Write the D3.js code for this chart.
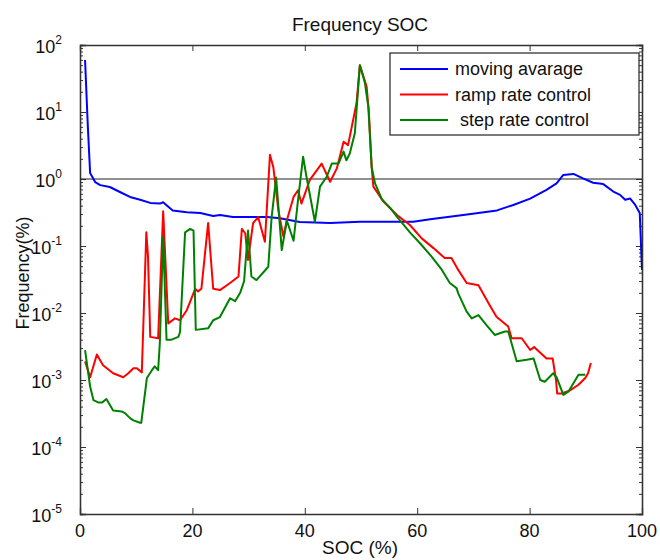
<!DOCTYPE html>
<html>
<head>
<meta charset="utf-8">
<script src="https://cdn.jsdelivr.net/npm/d3@7"></script>
<style>
  body { margin: 0; background: #fff; }
  text { font-family: "Liberation Sans", Arial, sans-serif; fill: #111; }
</style>
</head>
<body>
<div id="chart"></div>
<script>
// 曲线数据 (SOC %, frequency %)
const socMA = [0.9, 1.4, 1.8, 2.7, 3.6, 5.3, 7.1, 8.9, 10.7, 12.5, 14.2, 14.8, 15.5, 16.5, 19, 21.4, 23.7, 24.9, 27.2, 33.3, 35.6, 39.1, 44.5, 49.8, 59.3, 62.3, 68.2, 74.2, 77.1, 80.1, 83, 84.8, 86, 87.8, 89.5, 91.3, 93.1, 94.9, 96.1, 97, 97.9, 98.8, 99.6, 100];
const freqMA = [59.7, 5.97, 1.23, 0.90, 0.81, 0.76, 0.64, 0.54, 0.49, 0.44, 0.43, 0.45, 0.40, 0.34, 0.32, 0.31, 0.28, 0.29, 0.27, 0.27, 0.26, 0.228, 0.22, 0.23, 0.23, 0.25, 0.29, 0.34, 0.41, 0.51, 0.69, 0.86, 1.15, 1.19, 1.02, 0.88, 0.84, 0.65, 0.58, 0.49, 0.51, 0.41, 0.31, 0.044];

const socRamp = [0.9, 1.8, 3.0, 4.1, 5.9, 7.7, 8.6, 9.5, 10.1, 11.0, 11.8, 12.1, 12.5, 13.9, 14.8, 15.7, 16.9, 17.8, 19.0, 20.5, 21.0, 21.6, 22.8, 23.7, 24.9, 26.7, 28.2, 28.8, 29.4, 29.9, 30.8, 31.7, 32.9, 33.8, 34.4, 35.3, 36.2, 36.8, 38.0, 38.8, 39.4, 40.9, 43.0, 44.5, 45.7, 46.9, 47.7, 49.2, 49.8, 51.0, 51.4, 51.9, 52.2, 54.0, 56.4, 58.7, 60.8, 62.9, 64.9, 66.1, 67.3, 68.8, 70.9, 72.7, 74.1, 76.2, 76.8, 78.6, 80.1, 80.8, 83.0, 84.1, 84.7, 84.9, 85.7, 87.2, 88.7, 89.9, 90.4, 90.9];
const freqRamp = [0.0019, 0.0011, 0.0024, 0.00166, 0.00126, 0.0011, 0.00126, 0.0015, 0.0015, 0.0013, 0.16, 0.07, 0.0044, 0.0042, 0.33, 0.007, 0.0083, 0.0078, 0.011, 0.023, 0.021, 0.023, 0.22, 0.023, 0.022, 0.028, 0.035, 0.18, 0.155, 0.062, 0.22, 0.27, 0.116, 2.3, 1.5, 0.34, 0.138, 0.24, 0.54, 0.68, 0.43, 0.97, 1.7, 0.91, 1.44, 3.6, 3.2, 13.5, 50, 24, 10, 1.5, 0.77, 0.46, 0.29, 0.206, 0.13, 0.093, 0.066, 0.066, 0.044, 0.028, 0.026, 0.014, 0.0088, 0.0063, 0.0042, 0.0042, 0.0028, 0.0031, 0.0021, 0.0021, 0.001, 0.00063, 0.00063, 0.0007, 0.00085, 0.00107, 0.00126, 0.0018];

const socStep = [0.9, 1.8, 2.4, 3.3, 3.9, 4.7, 5.9, 7.4, 8.0, 8.9, 9.5, 10.7, 10.9, 11.9, 12.8, 13.3, 13.9, 14.2, 14.8, 15.4, 16.3, 17.5, 17.8, 18.7, 19.6, 20.2, 20.6, 22.8, 23.7, 24.9, 26.7, 27.6, 28.5, 29.2, 29.9, 30.5, 31.4, 33.5, 34.1, 34.9, 35.9, 36.8, 38.0, 38.8, 39.7, 40.3, 41.8, 42.7, 43.9, 44.8, 46.0, 46.9, 47.4, 48.0, 48.9, 49.8, 50.7, 51.3, 51.9, 52.5, 53.7, 55.2, 56.6, 58.7, 60.5, 62.6, 64.4, 65.8, 67.0, 67.3, 68.8, 69.7, 70.9, 72.4, 73.8, 75.6, 76.2, 77.7, 79.5, 80.7, 81.9, 82.7, 84.2, 84.8, 86.0, 86.9, 88.7, 89.9];
const freqStep = [0.0028, 0.0008, 0.0005, 0.00046, 0.00046, 0.00052, 0.00035, 0.00034, 0.00032, 0.00027, 0.00025, 0.00023, 0.00023, 0.00107, 0.0014, 0.0016, 0.0014, 0.0035, 0.14, 0.004, 0.004, 0.0044, 0.0052, 0.16, 0.18, 0.17, 0.0056, 0.0059, 0.0078, 0.0087, 0.0166, 0.015, 0.02, 0.03, 0.17, 0.035, 0.031, 0.049, 0.27, 1.05, 0.087, 0.24, 0.12, 0.49, 2.15, 1.08, 0.23, 0.77, 1.08, 1.7, 1.7, 2.56, 1.9, 2.4, 4.8, 50, 27, 12, 1.5, 0.86, 0.5, 0.37, 0.26, 0.16, 0.11, 0.069, 0.044, 0.028, 0.0235, 0.0196, 0.0105, 0.0083, 0.0093, 0.0065, 0.0047, 0.0053, 0.0053, 0.0019, 0.002, 0.0021, 0.001, 0.00094, 0.00126, 0.0011, 0.0006, 0.00067, 0.0012, 0.0012];

// 坐标轴刻度和图例
const xTicks = [0, 20, 40, 60, 80, 100];
const yExponents = [-5, -4, -3, -2, -1, 0, 1, 2];
const seriesNames = ["moving avarage", "ramp rate control", " step rate control"];
const seriesColors = ["#0000ff", "#ff0000", "#008000"];

const width = 660, height = 560;
const margin = { top: 45, right: 18, bottom: 46, left: 80 };
const innerW = width - margin.left - margin.right;
const innerH = height - margin.top - margin.bottom;

const svg = d3.select("#chart").append("svg")
    .attr("width", width)
    .attr("height", height);

const x = d3.scaleLinear().domain([0, 100]).range([0, innerW]);
const y = d3.scaleLog().domain([1e-5, 1e2]).range([innerH, 0]);

const g = svg.append("g").attr("transform", `translate(${margin.left},${margin.top})`);

svg.append("defs").append("clipPath").attr("id", "plot-clip")
    .append("rect").attr("width", innerW).attr("height", innerH);

// 刻度 (向内)
const minorTicks = [];
yExponents.slice(0, -1).forEach(e => {
    for (let m = 2; m <= 9; m++) minorTicks.push(m * Math.pow(10, e));
});
const majorTicks = yExponents.map(e => Math.pow(10, e));

const axisColor = "#333";
const yAxisL = d3.axisLeft(y).tickValues(majorTicks).tickSize(-6).tickFormat("");
const yAxisR = d3.axisRight(y).tickValues(majorTicks).tickSize(-6).tickFormat("");
const yMinorL = d3.axisLeft(y).tickValues(minorTicks).tickSize(-3).tickFormat("");
const yMinorR = d3.axisRight(y).tickValues(minorTicks).tickSize(-3).tickFormat("");
const xAxisB = d3.axisBottom(x).tickValues(xTicks).tickSize(-6).tickFormat("");
const xAxisT = d3.axisTop(x).tickValues(xTicks).tickSize(-6).tickFormat("");

g.append("g").call(yAxisL);
g.append("g").call(yMinorL);
g.append("g").attr("transform", `translate(${innerW},0)`).call(yAxisR);
g.append("g").attr("transform", `translate(${innerW},0)`).call(yMinorR);
g.append("g").attr("transform", `translate(0,${innerH})`).call(xAxisB);
g.append("g").call(xAxisT);
g.selectAll(".domain").attr("stroke", axisColor).attr("stroke-width", 1.3);
g.selectAll(".tick line").attr("stroke", axisColor).attr("stroke-width", 1);

// x 轴标签
g.selectAll(".xlabel")
    .data(xTicks)
    .join("text")
    .attr("class", "xlabel")
    .attr("x", d => x(d))
    .attr("y", innerH + 23)
    .attr("text-anchor", "middle")
    .style("font-size", "18px")
    .text(d => d);

// y 轴标签 10^n
const yLab = g.selectAll(".ylabel")
    .data(yExponents)
    .join("text")
    .attr("class", "ylabel")
    .attr("x", -18)
    .attr("y", d => y(Math.pow(10, d)) + 8)
    .attr("text-anchor", "end")
    .style("font-size", "18px");
yLab.append("tspan").text("10");
yLab.append("tspan")
    .attr("dy", -9)
    .style("font-size", "12px")
    .text(d => d);

// 1 % 参考线
g.append("line")
    .attr("x1", 0).attr("x2", innerW)
    .attr("y1", y(1)).attr("y2", y(1))
    .attr("stroke", "#222")
    .attr("stroke-width", 1.2);

// 曲线
const line = d3.line().x(d => x(d[0])).y(d => y(d[1]));
const series = [
    d3.zip(socMA, freqMA),
    d3.zip(socRamp, freqRamp),
    d3.zip(socStep, freqStep)
];
g.append("g").attr("clip-path", "url(#plot-clip)")
    .selectAll("path")
    .data(series)
    .join("path")
    .attr("d", line)
    .attr("fill", "none")
    .attr("stroke", (d, i) => seriesColors[i])
    .attr("stroke-width", 2)
    .attr("stroke-linejoin", "round");

// 标题和轴名
svg.append("text")
    .attr("x", 360).attr("y", 31)
    .attr("text-anchor", "middle")
    .style("font-size", "19px")
    .text("Frequency SOC");

svg.append("text")
    .attr("x", 360).attr("y", 554)
    .attr("text-anchor", "middle")
    .style("font-size", "19px")
    .text("SOC (%)");

svg.append("text")
    .attr("transform", "translate(29,273) rotate(-90)")
    .attr("text-anchor", "middle")
    .style("font-size", "18px")
    .text("Frequency(%)");

// 图例
const legend = svg.append("g").attr("transform", "translate(390,53)");
legend.append("rect")
    .attr("width", 249).attr("height", 82)
    .attr("fill", "#fff")
    .attr("stroke", "#222")
    .attr("stroke-width", 1.2);
const item = legend.selectAll(".item")
    .data(seriesNames)
    .join("g")
    .attr("class", "item")
    .attr("transform", (d, i) => `translate(0,${16 + i * 25.5})`);
item.append("line")
    .attr("x1", 10).attr("x2", 58)
    .attr("stroke", (d, i) => seriesColors[i])
    .attr("stroke-width", 2);
item.append("text")
    .attr("x", 65).attr("y", 6)
    .style("font-size", "18px")
    .style("white-space", "pre")
    .attr("xml:space", "preserve")
    .text(d => d);
</script>
</body>
</html>
